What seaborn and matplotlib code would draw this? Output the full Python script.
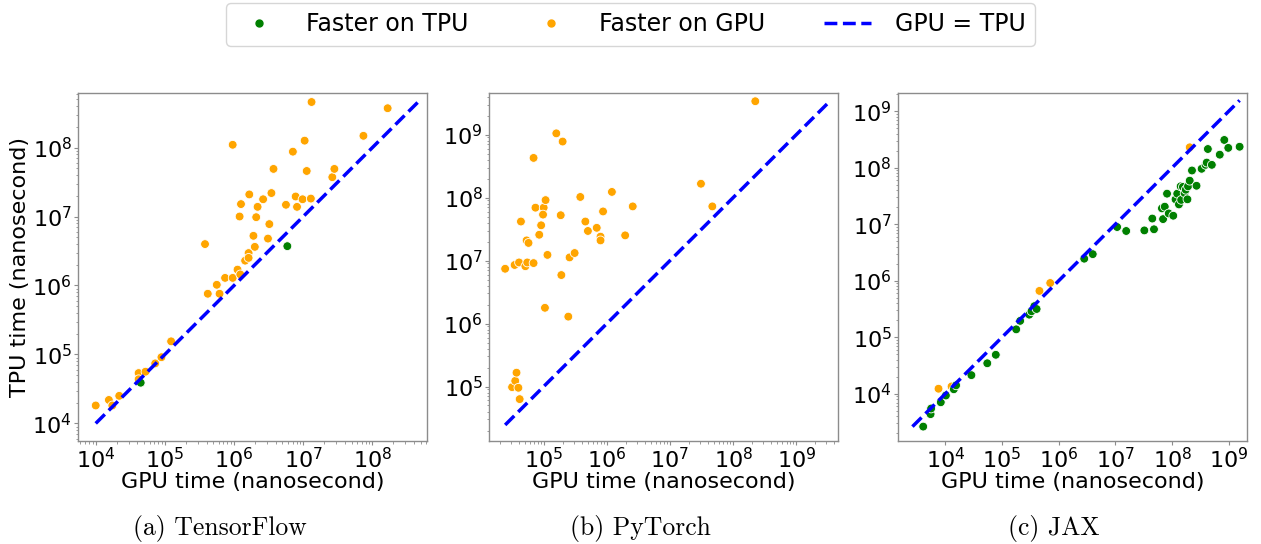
"""
GPU vs TPU execution time per framework (log-log scatter, three panels).
Output : out.png
"""

import numpy as np
import pandas as pd
import matplotlib
matplotlib.use('Agg')
import matplotlib.pyplot as plt
from matplotlib.lines import Line2D
from matplotlib.ticker import LogLocator
import seaborn as sns

# ── Colours ───────────────────────────────────────────────────
TPU_COL  = 'green'
GPU_COL  = 'orange'
LINE_COL = 'blue'
SPINE    = '#8C8C8C'

# ── Data (log10 of nanoseconds) ───────────────────────────────
tf_gpu_log = [4.00, 4.19, 4.24, 4.34, 4.62, 4.62, 4.65, 4.72, 4.86, 4.95,
              5.09, 5.58, 5.62, 5.75, 5.79, 5.87, 5.98, 5.98, 6.05, 6.09,
              6.08, 6.10, 6.16, 6.21, 6.21, 6.22, 6.28, 6.30, 6.32, 6.34,
              6.42, 6.49, 6.51, 6.54, 6.57, 6.75, 6.77, 6.85, 6.89, 6.91,
              6.99, 7.02, 7.05, 7.11, 7.12, 7.42, 7.45, 7.87, 8.22]
tf_tpu_log = [4.26, 4.34, 4.26, 4.40, 4.73, 4.64, 4.59, 4.75, 4.87, 4.96,
              5.19, 6.60, 5.88, 6.01, 5.88, 6.11, 6.11, 8.04, 6.23, 6.16,
              7.00, 7.18, 6.36, 6.47, 6.40, 7.32, 6.72, 6.56, 6.99, 7.14,
              7.25, 6.68, 6.89, 7.34, 7.69, 7.17, 6.57, 7.94, 7.29, 7.14,
              7.25, 8.10, 7.66, 7.26, 8.66, 7.57, 7.69, 8.17, 8.57]

pt_gpu_log = [4.39, 4.54, 4.61, 4.71, 4.74, 4.84, 4.64, 4.73, 4.76, 4.84,
              4.87, 4.93, 4.96, 5.00, 4.99, 5.03, 5.06, 5.02, 5.20, 5.27,
              5.28, 5.30, 5.39, 5.41, 5.49, 5.58, 5.66, 5.70, 5.84, 5.90,
              5.90, 5.94, 6.08, 6.29, 6.41, 7.49, 7.67, 8.35, 4.50, 4.55,
              4.57, 4.60, 4.62]
pt_tpu_log = [6.87, 6.93, 6.97, 6.91, 6.97, 6.96, 7.62, 7.32, 7.28, 8.63,
              7.84, 7.41, 7.56, 7.84, 7.73, 7.96, 7.09, 6.25, 9.02, 7.72,
              6.77, 8.89, 6.11, 7.05, 7.12, 8.01, 7.62, 7.47, 7.52, 7.38,
              7.32, 7.78, 8.09, 7.40, 7.86, 8.22, 7.86, 9.53, 4.99, 5.09,
              5.22, 4.98, 4.80]

jax_gpu_log = [3.61, 3.74, 3.75, 3.92, 4.01, 3.88, 4.11, 4.15, 4.19, 4.46,
               4.74, 4.89, 5.25, 5.32, 5.48, 5.52, 5.57, 5.61, 5.66, 5.85,
               6.45, 6.60, 7.03, 7.19, 7.51, 7.65, 7.68, 7.82, 7.84, 7.87,
               7.91, 7.94, 8.02, 8.06, 8.09, 8.12, 8.15, 8.16, 8.19, 8.22,
               8.24, 8.27, 8.28, 8.31, 8.31, 8.35, 8.43, 8.52, 8.59, 8.61,
               8.63, 8.70, 8.84, 8.92, 8.99, 9.19]
jax_tpu_log = [3.42, 3.64, 3.74, 3.85, 3.97, 4.09, 4.13, 4.08, 4.15, 4.33,
               4.54, 4.69, 5.14, 5.29, 5.40, 5.46, 5.55, 5.50, 5.82, 5.96,
               6.39, 6.47, 6.95, 6.88, 6.89, 7.10, 6.91, 7.28, 7.09, 7.31,
               7.54, 7.19, 7.15, 7.44, 7.54, 7.35, 7.67, 7.43, 7.66, 7.55,
               7.61, 7.44, 7.67, 7.77, 8.36, 7.95, 7.68, 7.98, 8.05, 8.09,
               8.33, 8.05, 8.23, 8.49, 8.35, 8.37]

frameworks = ['TensorFlow', 'PyTorch', 'JAX']
captions   = ['(a) TensorFlow', '(b) PyTorch', '(c) JAX']
gpu_logs   = [tf_gpu_log, pt_gpu_log, jax_gpu_log]
tpu_logs   = [tf_tpu_log, pt_tpu_log, jax_tpu_log]

palette = {'Faster on TPU': TPU_COL, 'Faster on GPU': GPU_COL}

# ── Figure layout (three square panels) ───────────────────────
fig = plt.figure(figsize=(12.61, 5.44), dpi=100)
lefts = [0.0619, 0.3878, 0.7121]
cap_x = [0.1745, 0.508, 0.836]

for i, (gl, tl) in enumerate(zip(gpu_logs, tpu_logs)):
    ax = fig.add_axes([lefts[i], 0.1893, 0.2768, 0.6397])
    df = pd.DataFrame({'gpu': np.power(10.0, gl), 'tpu': np.power(10.0, tl)})
    df['faster'] = np.where(df['tpu'] < df['gpu'], 'Faster on TPU', 'Faster on GPU')

    sns.scatterplot(data=df, x='gpu', y='tpu', hue='faster', palette=palette,
                    s=40, edgecolor='white', linewidth=0.6, legend=False,
                    zorder=2, ax=ax)

    vmin = min(df['gpu'].min(), df['tpu'].min())
    vmax = max(df['gpu'].max(), df['tpu'].max())
    ax.plot([vmin, vmax], [vmin, vmax], color=LINE_COL, ls='--', lw=2.5, zorder=3)

    ax.set_xscale('log')
    ax.set_yscale('log')
    ax.set_xlim(vmin / 1.8, vmax * 1.35)
    ax.set_ylim(vmin / 1.8, vmax * 1.35)
    # every decade gets a label
    ax.xaxis.set_major_locator(LogLocator(base=10, numticks=20))
    ax.yaxis.set_major_locator(LogLocator(base=10, numticks=20))

    ax.set_xlabel('GPU time (nanosecond)', fontsize=16, labelpad=0)
    ax.set_ylabel('TPU time (nanosecond)' if i == 0 else '', fontsize=16, labelpad=2)
    ax.tick_params(axis='both', which='major', labelsize=16, length=3,
                   color=SPINE, pad=1.5)
    ax.tick_params(axis='both', which='minor', length=1.8, color=SPINE)
    for sp in ax.spines.values():
        sp.set_color(SPINE)
        sp.set_linewidth(1.0)

    fig.text(cap_x[i], 0.029, captions[i], ha='center', va='center',
             fontsize=18.5, family='cmr10')

# ── Shared legend on top ──────────────────────────────────────
handles = [
    Line2D([], [], marker='o', ls='', color=TPU_COL, markersize=5),
    Line2D([], [], marker='o', ls='', color=GPU_COL, markersize=5),
    Line2D([], [], color=LINE_COL, ls='--', lw=2.5),
]
labels = ['Faster on TPU', 'Faster on GPU', 'GPU = TPU']
fig.legend(handles, labels, loc='center', bbox_to_anchor=(0.5, 0.955),
           ncol=3, fontsize=17, frameon=True, handletextpad=1.0,
           columnspacing=2.5, borderpad=0.4)

plt.savefig('out.png', dpi=100)
print("Saved -> out.png")
